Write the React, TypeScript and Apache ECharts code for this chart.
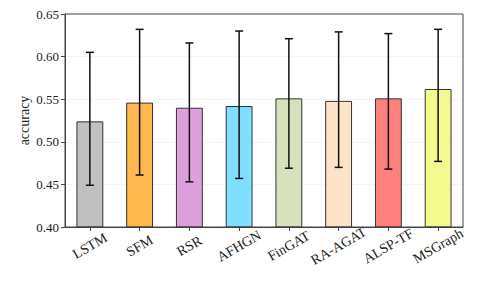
import React, { useEffect, useRef } from "react";
import * as echarts from "echarts";

const categories = ["LSTM", "SFM", "RSR", "AFHGN", "FinGAT", "RA-AGAT", "ALSP-TF", "MSGraph"];
const means = [0.524, 0.546, 0.540, 0.542, 0.551, 0.548, 0.551, 0.562];
const errLow = [0.449, 0.461, 0.453, 0.457, 0.469, 0.470, 0.468, 0.477];
const errHigh = [0.605, 0.632, 0.616, 0.630, 0.621, 0.629, 0.627, 0.632];
const colors = ["#c0c0c0", "#ffb84d", "#dda0dd", "#80dfff", "#d6e2bd", "#fde3c8", "#ff7f7f", "#f5fa8e"];
const yTicks = [0.4, 0.45, 0.5, 0.55, 0.6, 0.65];

const FONT = "Liberation Serif";

export default function App() {
  const ref = useRef<HTMLDivElement>(null);
  useEffect(() => {
    if (!ref.current) return;
    const chart = echarts.init(ref.current, undefined, { renderer: "svg" });
    chart.setOption({
      animation: false,
      grid: {
        left: 65,
        right: 26,
        top: 14,
        bottom: 55,
        show: true,
        borderColor: "#444",
        borderWidth: 1,
        backgroundColor: "transparent",
        z: 10,
      },
      xAxis: {
        type: "category",
        data: categories,
        axisLine: { lineStyle: { color: "#444", width: 1 } },
        axisTick: { show: true, alignWithLabel: true, length: 4, lineStyle: { color: "#444" } },
        axisLabel: {
          rotate: 30,
          align: "center",
          verticalAlign: "middle",
          margin: 19,
          fontFamily: FONT,
          fontSize: 14,
          color: "#222",
        },
        splitLine: { show: false },
      },
      yAxis: {
        type: "value",
        min: yTicks[0],
        max: yTicks[yTicks.length - 1],
        interval: 0.05,
        name: "accuracy",
        nameLocation: "middle",
        nameGap: 34,
        nameMoveOverlap: false,
        nameTextStyle: { fontFamily: FONT, fontSize: 14, color: "#222" },
        axisLine: { show: true, lineStyle: { color: "#444", width: 1 } },
        axisTick: { show: true, length: 4, lineStyle: { color: "#444" } },
        axisLabel: {
          fontFamily: FONT,
          fontSize: 13,
          color: "#222",
          margin: 6,
          formatter: (v: number) => v.toFixed(2),
        },
        splitLine: {
          show: true,
          showMinLine: false,
          showMaxLine: false,
          lineStyle: { color: "#ececec", type: "dotted", width: 1 },
        },
      },
      series: [
        {
          type: "bar",
          barWidth: "54%",
          data: means.map((v, i) => ({
            value: v,
            itemStyle: { color: colors[i], borderColor: "#333", borderWidth: 1 },
          })),
        },
        {
          type: "custom",
          data: categories.map((_, i) => [i, errLow[i], errHigh[i]]),
          renderItem: (params: any, api: any) => {
            const x = api.value(0);
            const lo = api.coord([x, api.value(1)]);
            const hi = api.coord([x, api.value(2)]);
            const cap = 4;
            const style = { stroke: "#111", lineWidth: 1.5 };
            return {
              type: "group",
              children: [
                { type: "line", shape: { x1: lo[0], y1: lo[1], x2: hi[0], y2: hi[1] }, style },
                { type: "line", shape: { x1: lo[0] - cap, y1: lo[1], x2: lo[0] + cap, y2: lo[1] }, style },
                { type: "line", shape: { x1: hi[0] - cap, y1: hi[1], x2: hi[0] + cap, y2: hi[1] }, style },
              ],
            };
          },
          z: 5,
        },
      ],
    });
    return () => chart.dispose();
  }, []);
  return <div ref={ref} style={{ width: 489, height: 282, position: "absolute", left: 0, top: 0 }} />;
}
